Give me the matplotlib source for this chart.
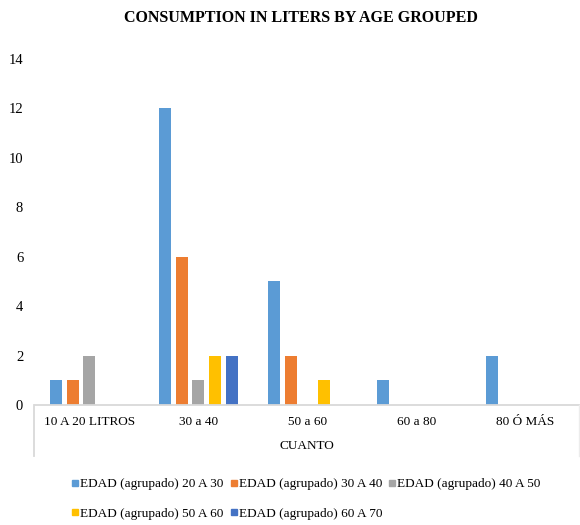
import numpy as np
import matplotlib

matplotlib.use("Agg")
import matplotlib.pyplot as plt
from matplotlib.lines import Line2D

categories = ["10 A 20 LITROS", "30 a 40", "50 a 60", "60 a 80", "80 Ó MÁS"]
series_names = [
    "EDAD (agrupado) 20 A 30",
    "EDAD (agrupado) 30 A 40",
    "EDAD (agrupado) 40 A 50",
    "EDAD (agrupado) 50 A 60",
    "EDAD (agrupado) 60 A 70",
]
edad_20_30 = [1, 12, 5, 1, 2]
edad_30_40 = [1, 6, 2, 0, 0]
edad_40_50 = [2, 1, 0, 0, 0]
edad_50_60 = [0, 2, 1, 0, 0]
edad_60_70 = [0, 2, 0, 0, 0]
y_ticks = [0, 2, 4, 6, 8, 10, 12, 14]

series_values = [edad_20_30, edad_30_40, edad_40_50, edad_50_60, edad_60_70]
colors = ["#5B9BD5", "#ED7D31", "#A5A5A5", "#FFC000", "#4472C4"]

plt.rcParams["font.family"] = ["Liberation Serif", "DejaVu Serif"]

fig = plt.figure(figsize=(5.8, 5.25), dpi=100)
ax = fig.add_axes([0.0603, 0.2286, 0.9397, 0.659])

x = np.arange(len(categories))
pitch = 0.154
bar_width = 0.11
handles = []
for i, (name, vals, color) in enumerate(zip(series_names, series_values, colors)):
    ax.bar(x + (i - 2) * pitch, vals, width=bar_width, color=color, linewidth=0, zorder=2)
    handles.append(Line2D([], [], marker="s", linestyle="none", markersize=5,
                          markerfacecolor=color, markeredgecolor=color, label=name))

ax.set_xlim(-0.5, len(categories) - 0.5)
ax.set_ylim(0, 14)
ax.set_yticks(y_ticks)
ax.tick_params(axis="y", length=0, pad=8.5, labelsize=10.5, colors="#000000")
ax.set_xticks([])
for side in ["left", "right", "top"]:
    ax.spines[side].set_visible(False)
ax.spines["bottom"].set_color("#d9d9d9")
ax.spines["bottom"].set_linewidth(1.3)

# category labels and grouped-axis frame, like the spreadsheet chart
for xi, cat in zip(x, categories):
    ax.annotate(cat, (xi, 0), xycoords="data", xytext=(0, -12), textcoords="offset points",
                ha="center", va="center", fontsize=9.5, annotation_clip=False)
fig.text(0.5294, 1 - 446 / 525, "CUANTO", ha="center", va="center", fontsize=9.5)
fig.add_artist(Line2D([34 / 580, 34 / 580], [1 - 405 / 525, 1 - 456 / 525],
                      color="#d9d9d9", linewidth=1.3))
fig.add_artist(Line2D([578.5 / 580, 578.5 / 580], [1 - 405 / 525, 1 - 456 / 525],
                      color="#ececec", linewidth=1.0))

fig.text(301 / 580, 1 - 18 / 525, "CONSUMPTION IN LITERS BY AGE GROUPED",
         ha="center", va="center", fontsize=11.5, fontweight="bold")

# legend fills column by column, so reorder to read row by row
order = [0, 3, 1, 4, 2]
fig.legend(handles=[handles[k] for k in order], ncol=3, loc="center",
           bbox_to_anchor=(0.528, 0.05), frameon=False, fontsize=9.5,
           handlelength=0.5, handletextpad=0.15, columnspacing=0.5,
           labelspacing=1.3, borderpad=0)

fig.savefig("out.png", dpi=100)
